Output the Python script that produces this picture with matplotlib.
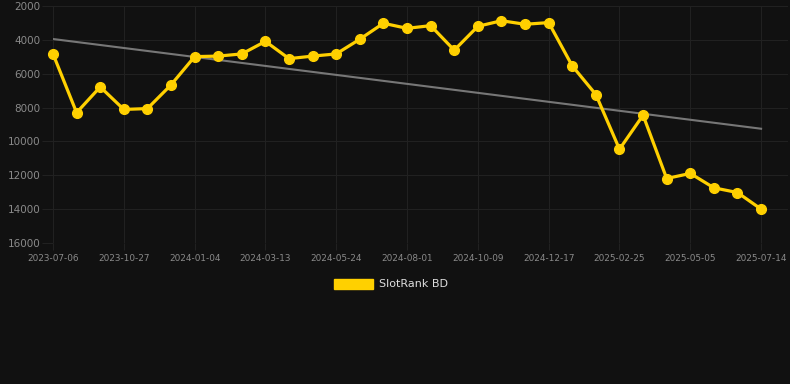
import numpy as np
import matplotlib
matplotlib.use("Agg")
import matplotlib.pyplot as plt
from matplotlib.patches import Patch

BG, GOLD, TREND, GRID = "#111111", "#FFD000", "#777777", "#212121"

# rank per snapshot (evenly spaced on the x axis)
ranks = [4830, 8300, 6780, 8110, 8060, 6660, 4990, 4960, 4830, 4090, 5110,
         4960, 4830, 3960, 3020, 3320, 3160, 4610, 3200, 2870, 3080, 2980,
         5540, 7230, 10460, 8450, 12190, 11890, 12740, 13020, 14000]
tick_labels = ["2023-07-06", "2023-10-27", "2024-01-04", "2024-03-13", "2024-05-24",
               "2024-08-01", "2024-10-09", "2024-12-17", "2025-02-25", "2025-05-05",
               "2025-07-14"]
trend_ends = [3950, 9250]
series_name = "SlotRank BD"

x = np.arange(len(ranks))

fig = plt.figure(figsize=(7.9, 3.84), dpi=100, facecolor=BG)
ax = fig.add_axes([53/790, 1-243/384, (788-53)/790, 237/384], facecolor=BG)

ax.plot([x[0], x[-1]], trend_ends, color=TREND, lw=1.5, zorder=2)
ax.plot(x, ranks, color=GOLD, lw=2.3, marker="o", ms=7.0, zorder=3, clip_on=False)

ax.set_xlim(0, 31.14)
ax.set_ylim(16000, 2000)
ax.set_yticks(range(2000, 16001, 2000))
ax.set_xticks(x[::3])
ax.set_xticklabels(tick_labels)
ax.grid(True, color=GRID, lw=0.8)
ax.set_axisbelow(True)
for sp in ax.spines.values():
    sp.set_visible(False)
ax.tick_params(axis="y", length=8, width=0.8, color=GRID, labelcolor="#8a8a8a",
               labelsize=7.5, pad=1)
ax.tick_params(axis="x", length=5, width=0.8, color=GRID, labelcolor="#8a8a8a",
               labelsize=6.4, pad=3)

fig.legend(handles=[Patch(facecolor=GOLD, edgecolor=GOLD, label=series_name)],
           loc="center", bbox_to_anchor=(391/790, 1-284/384), frameon=False,
           fontsize=8, labelcolor="#dddddd", handlelength=3.5, handleheight=1.05,
           handletextpad=0.6)

fig.savefig("out.png", dpi=100, facecolor=BG)
